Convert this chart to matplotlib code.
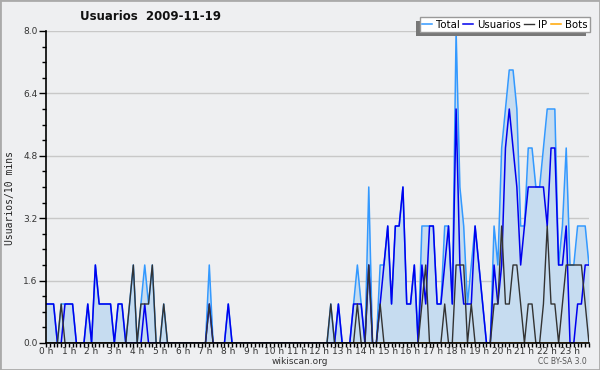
import numpy as np
import matplotlib.pyplot as plt
from matplotlib.patches import Rectangle
from matplotlib.transforms import IdentityTransform
from matplotlib.ticker import MultipleLocator, FixedLocator

# 144 slots of 10 minutes
slots = np.arange(144)
hour_ticks = np.arange(0, 144, 6)
hour_labels = [f"{h} h" for h in range(24)]

usuarios = [1, 1, 1, 0, 0, 1, 1, 1, 0, 0, 0, 1,
            0, 2, 1, 1, 1, 1, 0, 1, 1, 0, 0, 0,
            0, 0, 1, 0, 0, 0, 0, 0, 0, 0, 0, 0,
            0, 0, 0, 0, 0, 0, 0, 1, 0, 0, 0, 0,
            1, 0, 0, 0, 0, 0, 0, 0, 0, 0, 0, 0,
            0, 0, 0, 0, 0, 0, 0, 0, 0, 0, 0, 0,
            0, 0, 0, 0, 0, 1, 0, 0, 0, 1, 1, 1,
            0, 2, 0, 0, 1, 2, 3, 1, 3, 3, 4, 1,
            1, 2, 0, 2, 1, 3, 3, 1, 1, 2, 3, 1,
            6, 2, 1, 1, 1, 3, 2, 1, 0, 0, 2, 1,
            2, 5, 6, 5, 4, 2, 3, 4, 4, 4, 4, 4,
            3, 5, 5, 2, 2, 3, 0, 0, 1, 1, 2, 2]

ip = [0, 0, 0, 0, 1, 0, 0, 0, 0, 0, 0, 0,
      0, 0, 0, 0, 0, 0, 0, 0, 0, 0, 1, 2,
      0, 1, 1, 1, 2, 0, 0, 1, 0, 0, 0, 0,
      0, 0, 0, 0, 0, 0, 0, 1, 0, 0, 0, 0,
      0, 0, 0, 0, 0, 0, 0, 0, 0, 0, 0, 0,
      0, 0, 0, 0, 0, 0, 0, 0, 0, 0, 0, 0,
      0, 0, 0, 1, 0, 0, 0, 0, 0, 0, 1, 0,
      0, 2, 0, 0, 1, 0, 0, 0, 0, 0, 0, 0,
      0, 0, 0, 1, 2, 0, 0, 0, 0, 1, 0, 0,
      2, 2, 2, 0, 1, 0, 0, 0, 0, 0, 1, 1,
      3, 1, 1, 2, 2, 1, 0, 1, 1, 0, 0, 1,
      3, 1, 1, 0, 1, 2, 2, 2, 2, 2, 1, 0]

total = [1, 1, 1, 0, 1, 1, 1, 1, 0, 0, 0, 1,
         0, 2, 1, 1, 1, 1, 0, 1, 1, 0, 1, 2,
         0, 1, 2, 1, 2, 0, 0, 1, 0, 0, 0, 0,
         0, 0, 0, 0, 0, 0, 0, 2, 0, 0, 0, 0,
         1, 0, 0, 0, 0, 0, 0, 0, 0, 0, 0, 0,
         0, 0, 0, 0, 0, 0, 0, 0, 0, 0, 0, 0,
         0, 0, 0, 1, 0, 1, 0, 0, 0, 1, 2, 1,
         0, 4, 0, 0, 2, 2, 3, 1, 3, 3, 4, 1,
         1, 2, 0, 3, 3, 3, 3, 1, 1, 3, 3, 1,
         8, 4, 3, 1, 2, 3, 2, 1, 0, 0, 3, 2,
         5, 6, 7, 7, 6, 3, 3, 5, 5, 4, 4, 5,
         6, 6, 6, 2, 3, 5, 2, 2, 3, 3, 3, 2]

bots = [0] * 144

bg = '#eeeff1'

fig = plt.figure(figsize=(6, 3.7), dpi=100, facecolor=bg)
ax = fig.add_axes([46 / 600, 27 / 370, 543 / 600, 312 / 370])
ax.set_facecolor(bg)

ax.fill_between(slots, total, color='#c6dcf0', linewidth=0, zorder=1)
l_bots, = ax.plot(slots, bots, color='#ffa500', lw=1.1, zorder=1.2, label='Bots')
l_total, = ax.plot(slots, total, color='#3399ff', lw=1.1, zorder=1.5, label='Total')
l_usr, = ax.plot(slots, usuarios, color='#0000ee', lw=1.1, zorder=1.7, label='Usuarios')
l_ip, = ax.plot(slots, ip, color='#333333', lw=1.0, zorder=1.8, label='IP')

ax.set_xlim(0, 143)
ax.set_ylim(0, 8)
ax.yaxis.set_major_locator(MultipleLocator(1.6))
ax.yaxis.set_minor_locator(MultipleLocator(0.4))
ax.yaxis.set_major_formatter(lambda v, p: f"{v:.1f}")
ax.xaxis.set_major_locator(FixedLocator(hour_ticks))
ax.xaxis.set_minor_locator(FixedLocator(slots))
ax.set_xticklabels(hour_labels)

ax.tick_params(axis='both', which='both', direction='out', color='black',
               labelsize=6.5, labelcolor='#333333', width=1)
ax.tick_params(axis='y', which='major', length=5, pad=1)
ax.tick_params(axis='y', which='minor', length=3)
ax.tick_params(axis='x', which='both', length=3, pad=0)

ax.yaxis.grid(True, color='#c8c8c8', lw=1)
ax.set_axisbelow(True)
for s in ('top', 'right'):
    ax.spines[s].set_visible(False)
for s in ('left', 'bottom'):
    ax.spines[s].set_color('black')
    ax.spines[s].set_linewidth(1.2)
    ax.spines[s].set_zorder(3)

fig.text(151 / 600, 1 - 16 / 370, "Usuarios  2009-11-19", ha='center', va='center',
         fontsize=8.5, fontweight='bold', color='#111111')
fig.text(10 / 600, 1 - 198 / 370, "Usuarios/10 mins", rotation=90, ha='center',
         va='center', family='DejaVu Sans Mono', fontsize=7, color='#222222')
fig.text(300 / 600, 1 - 362 / 370, "wikiscan.org", ha='center', va='center',
         fontsize=6.5, color='#333333')
fig.text(562 / 600, 1 - 362 / 370, "CC BY-SA 3.0", ha='center', va='center',
         fontsize=5.5, color='#555555')

leg = fig.legend([l_total, l_usr, l_ip, l_bots], ['Total', 'Usuarios', 'IP', 'Bots'],
                 ncol=4, loc='upper right', bbox_to_anchor=(590 / 600, 1 - 17 / 370),
                 frameon=True, fancybox=False, framealpha=1, edgecolor='#999999',
                 fontsize=7.3, handlelength=1.0, handletextpad=0.4, columnspacing=0.3,
                 borderpad=0.25, borderaxespad=0)
leg.get_frame().set_linewidth(1)
leg.get_frame().set_facecolor('white')
leg.set_zorder(6)

fig.canvas.draw()
bb = leg.get_window_extent()
shadow = Rectangle((bb.x0 - 4, bb.y0 - 4), bb.width, bb.height,
                   facecolor='#777777', edgecolor='none', zorder=5)
shadow.set_transform(IdentityTransform())
fig.add_artist(shadow)

fig.add_artist(Rectangle((0, 0), 1, 1, transform=fig.transFigure, fill=False,
                         edgecolor='#aaaaaa', lw=2))

fig.savefig('out.png', dpi=100, facecolor=bg)
